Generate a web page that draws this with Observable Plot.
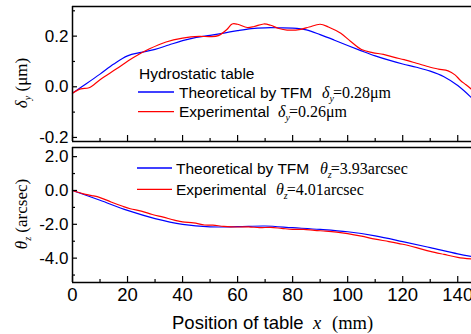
<!DOCTYPE html>
<html><head><meta charset="utf-8">
<script src="https://cdn.jsdelivr.net/npm/d3@7"></script>
<script src="https://cdn.jsdelivr.net/npm/@observablehq/plot@0.6"></script>
<style>
html,body{margin:0;padding:0;background:#fff;}
#chart{position:relative;width:471px;height:334px;overflow:hidden;}
#chart svg{position:absolute;left:0;}
</style></head><body><div id="chart"></div>
<script>
// ---- data ----
const posTheoUpper = [0,5,10,15,20,25,30,35,40,45,50,55,60,65,70,75,80,85,90,95,100,105,110,115,120,125,130,135,140,145];
const dyTheo = [-0.025,0.012,0.05,0.09,0.122,0.136,0.148,0.165,0.182,0.195,0.203,0.212,0.222,0.23,0.233,0.233,0.232,0.225,0.206,0.185,0.163,0.142,0.122,0.105,0.09,0.077,0.062,0.04,0.005,-0.043];
const posExpUpper = [0,3,6,10,16,22,28,34,40,46,50,53,56,58,60,63.5,66,69.5,72,75,78,83,86,90,93,97.5,101,105,109,113,117,120.5,125,130,133,136.5,139,141,143,145];
const dyExp = [-0.025,-0.008,-0.004,0.028,0.071,0.115,0.15,0.177,0.192,0.199,0.198,0.202,0.225,0.248,0.247,0.234,0.238,0.248,0.243,0.23,0.224,0.227,0.236,0.247,0.236,0.211,0.18,0.147,0.135,0.128,0.116,0.107,0.093,0.077,0.07,0.063,0.047,0.025,0.008,-0.01];
const posTheoLower = [0,10,20,30,40,50,60,70,80,90,100,110,120,130,140,145];
const thTheo = [0,-0.58,-1.18,-1.66,-2.0,-2.15,-2.14,-2.1,-2.2,-2.3,-2.44,-2.68,-3.02,-3.38,-3.75,-3.9];
const posExpLower = [0,4,7,10,14,18,21,25,29,33,37,40,44,48,51,55,60,64,68,72,76,80,84,88,92,96,100,105,110,115,120,125,130,135,140,145];
const thExp = [0,-0.2,-0.3,-0.42,-0.68,-0.92,-1.08,-1.22,-1.42,-1.58,-1.75,-1.86,-1.92,-2.04,-2.05,-2.12,-2.16,-2.15,-2.2,-2.18,-2.24,-2.3,-2.3,-2.36,-2.4,-2.46,-2.55,-2.7,-2.88,-3.02,-3.18,-3.38,-3.6,-3.78,-3.95,-4.05];

const xTicks = [0,20,40,60,80,100,120,140];
const xMinor = [10,30,50,70,90,110,130];
const yTicksUpper = [-0.2,0.0,0.2];
const yMinorUpper = [-0.1,0.1,0.3];
const yTicksLower = [-4,-2,0,2];
const yMinorLower = [-5,-3,-1,1];
const xDomain = [0,145];
const yDomainUpper = [-0.216,0.317];
const yDomainLower = [-5.44,2.54];

const upperTheo = posTheoUpper.map((x,i)=>({x, v: dyTheo[i]}));
const upperExp = posExpUpper.map((x,i)=>({x, v: dyExp[i]}));
const lowerTheo = posTheoLower.map((x,i)=>({x, v: thTheo[i]}));
const lowerExp = posExpLower.map((x,i)=>({x, v: thExp[i]}));

const sans = "'Liberation Sans', Arial, sans-serif";
const serif = "'Liberation Serif', 'Times New Roman', serif";
const BLUE = "#0000ff", RED = "#ff0000";

function panel(theo, exp, yDomain, yTicks, yMinor, height, mt, mb, withXLabels){
  const marks = [
    Plot.line(theo, {x:"x", y:"v", stroke:BLUE, strokeWidth:1.2, curve:"catmull-rom"}),
    Plot.line(exp, {x:"x", y:"v", stroke:RED, strokeWidth:1.2, curve:"catmull-rom"}),
    Plot.axisY(yTicks, {anchor:"left", tickSize:0, tickPadding:4, fontSize:17, tickFormat:d=>d.toFixed(1), label:null}),
    Plot.axisY(yTicks, {anchor:"left", tickSize:5, dx:5, tickFormat:()=>"", label:null, strokeWidth:1.2}),
    Plot.axisY(yMinor, {anchor:"left", tickSize:3, dx:3, tickFormat:()=>"", label:null, strokeWidth:1.2}),
    Plot.axisX(xTicks, {anchor:"bottom", tickSize:6, dy:-6, tickFormat:()=>"", label:null, strokeWidth:1.2}),
    Plot.axisX(xMinor, {anchor:"bottom", tickSize:3, dy:-3, tickFormat:()=>"", label:null, strokeWidth:1.2}),
    Plot.ruleX([xDomain[0]], {stroke:"#000", strokeWidth:1.5}),
    Plot.ruleY(yDomain, {stroke:"#000", strokeWidth:1.5})
  ];
  if (withXLabels) marks.push(Plot.axisX(xTicks, {anchor:"bottom", tickSize:0, tickPadding:5, fontSize:18.5, label:null}));
  return Plot.plot({
    width:471, height, marginLeft:72, marginRight:0, marginTop:mt, marginBottom:mb,
    style:{fontFamily:sans, background:"transparent", color:"#000", overflow:"visible"},
    x:{domain:xDomain, axis:null, label:null},
    y:{domain:yDomain, axis:null, label:null},
    marks
  });
}

const chart = document.getElementById("chart");
const up = panel(upperTheo, upperExp, yDomainUpper, yTicksUpper, yMinorUpper, 145, 6, 4, false);
up.style.top = "0px";
chart.appendChild(up);
const lo = panel(lowerTheo, lowerExp, yDomainLower, yTicksLower, yMinorLower, 189, 2, 52, true);
lo.style.top = "145px";
chart.appendChild(lo);

// ---- overlay text: labels and legends ----
const ov = d3.select("#chart").append("svg").attr("width",471).attr("height",334).style("top","0px");
function txt(x, y, s, font, size, italic, anchor){
  return ov.append("text").attr("x",x).attr("y",y).attr("font-family",font).attr("font-size",size)
    .attr("font-style", italic ? "italic" : "normal").attr("text-anchor", anchor||"start").attr("fill","#000").text(s);
}
function sym(x, y, g, sub, rest){
  const t = ov.append("text").attr("x",x).attr("y",y).attr("font-family",serif).attr("font-size",16).attr("fill","#000");
  t.append("tspan").attr("font-style","italic").text(g);
  t.append("tspan").attr("font-style","italic").attr("font-size",10).attr("dy",4).text(sub);
  t.append("tspan").attr("dy",-4).attr("dx",-1).text(rest);
}
function swatch(x1, x2, y, color){
  ov.append("line").attr("x1",x1).attr("x2",x2).attr("y1",y).attr("y2",y).attr("stroke",color).attr("stroke-width",1.3);
}
// upper legend
txt(139, 78.5, "Hydrostatic table", sans, 15.5);
swatch(138, 174, 92, BLUE);
txt(179, 97.5, "Theoretical by TFM", sans, 15.5);
sym(322, 97.5, "δ", "y", "=0.28μm");
swatch(138, 174, 111.7, RED);
txt(179, 117, "Experimental", sans, 15.5);
sym(278, 117, "δ", "y", "=0.26μm");
// lower legend
swatch(137, 172, 168, BLUE);
txt(176, 174, "Theoretical by TFM", sans, 15.5);
sym(320, 174, "θ", "z", "=3.93arcsec");
swatch(137, 172, 189.3, RED);
txt(176, 195, "Experimental", sans, 15.5);
sym(276, 195, "θ", "z", "=4.01arcsec");

// y labels
function ylab(cx, cy, g, sub, rest){
  const t = ov.append("text").attr("transform",`translate(${cx},${cy}) rotate(-90)`).attr("text-anchor","middle")
    .attr("font-family",serif).attr("font-size",17).attr("fill","#000");
  t.append("tspan").attr("font-style","italic").text(g);
  t.append("tspan").attr("font-style","italic").attr("font-size",10).attr("dy",4).text(sub);
  t.append("tspan").attr("dy",-4).text(rest);
}
ylab(27, 83, "δ", "y", " (μm)");
ylab(27, 214, "θ", "z", " (arcsec)");

// x label
txt(172, 329, "Position of table", sans, 18.5);
txt(313, 329, "x", serif, 18.5, true);
txt(332, 329, "(mm)", serif, 18.5);
</script></body></html>
